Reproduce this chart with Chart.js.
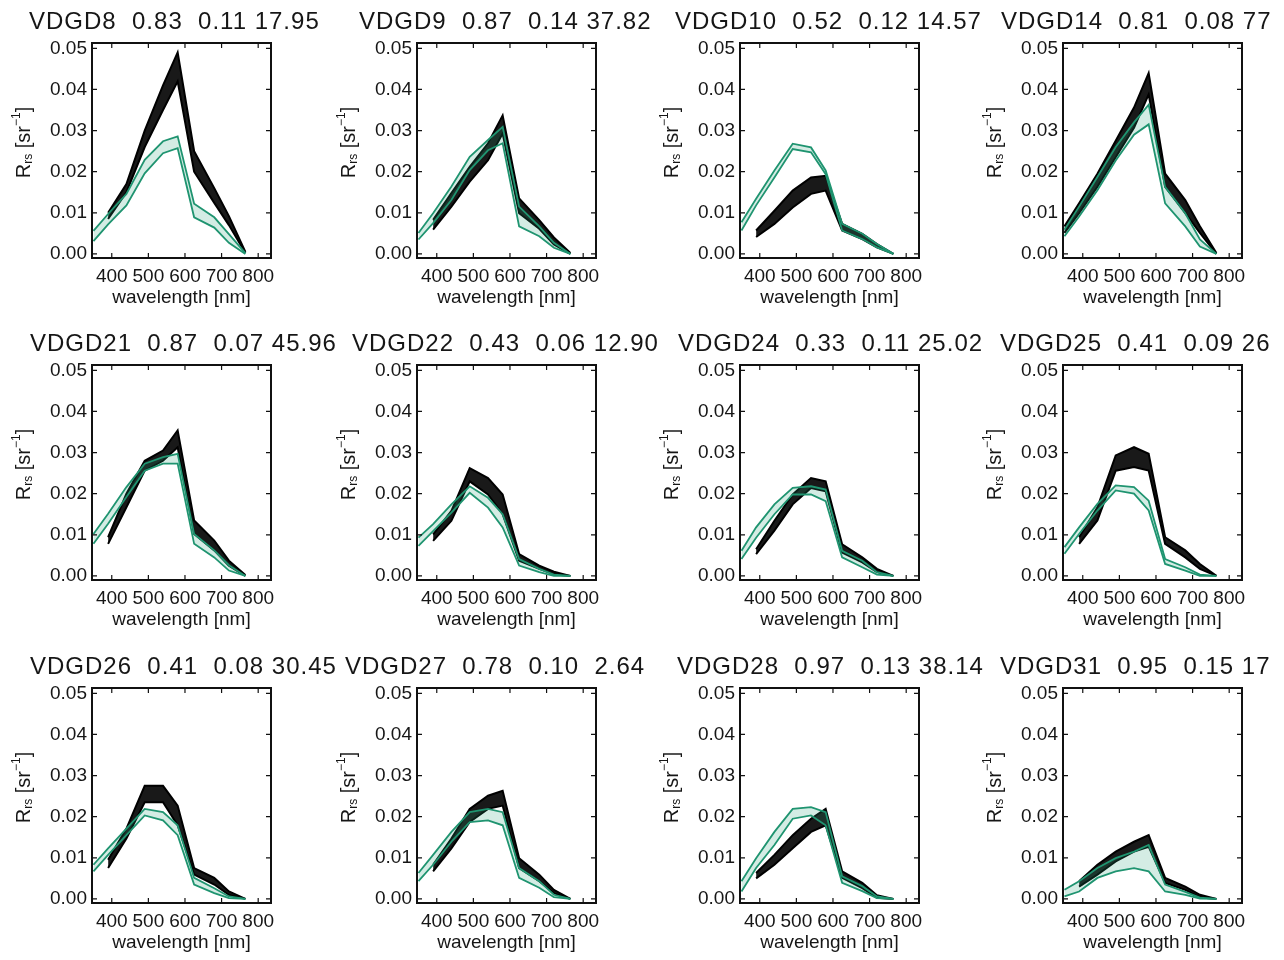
<!DOCTYPE html>
<html>
<head>
<meta charset="utf-8">
<script src="https://cdn.jsdelivr.net/npm/chart.js@4.4.0/dist/chart.umd.min.js"></script>
<style>
  html, body { margin: 0; padding: 0; background: #fff; }
  body { width: 1284px; height: 960px; position: relative; overflow: hidden; font-family: "Liberation Sans", Arial, sans-serif; }
  .panel { position: absolute; width: 323px; height: 320px; }
  .ttl { position: absolute; font-size: 24px; line-height: 1; color: #161616; white-space: pre; letter-spacing: 1px; }
</style>
</head>
<body>
<script>
// shared axes
const wavelengths = [350, 390, 440, 490, 540, 580, 625, 680, 720, 765];
const xTicks = [400, 500, 600, 700, 800];
const yTicks = [0, 0.01, 0.02, 0.03, 0.04, 0.05];

// panel titles
const stations = ['VDGD8', 'VDGD9', 'VDGD10', 'VDGD14', 'VDGD21', 'VDGD22', 'VDGD24', 'VDGD25', 'VDGD26', 'VDGD27', 'VDGD28', 'VDGD31'];
const statsA = [0.83, 0.87, 0.52, 0.81, 0.87, 0.43, 0.33, 0.41, 0.41, 0.78, 0.97, 0.95];
const statsB = [0.11, 0.14, 0.12, 0.08, 0.07, 0.06, 0.11, 0.09, 0.08, 0.10, 0.13, 0.15];
const statsC = ['17.95', '37.82', '14.57', '77', '45.96', '12.90', '25.02', '26', '30.45', '2.64', '38.14', '17'];

// black band (upper / lower envelope) per station, Rrs at wavelengths
const blackUpper = [
  [null, 0.010, 0.017, 0.030, 0.041, 0.049, 0.025, 0.016, 0.0092, 0.0005],
  [null, 0.0083, 0.0148, 0.0212, 0.0269, 0.0337, 0.0135, 0.0082, 0.004, 0.0002],
  [null, 0.0057, 0.0105, 0.0154, 0.0186, 0.019, 0.0073, 0.0049, 0.0024, 0],
  [0.0067, 0.0123, 0.0195, 0.0275, 0.0356, 0.044, 0.0195, 0.0131, 0.0067, 0.0002],
  [null, 0.0094, 0.020, 0.028, 0.0305, 0.0354, 0.0135, 0.0086, 0.0037, 0.0002],
  [null, 0.0101, 0.0158, 0.0262, 0.0238, 0.0198, 0.0053, 0.0025, 0.001, 0],
  [null, 0.0065, 0.0134, 0.0198, 0.0238, 0.023, 0.0077, 0.0045, 0.0017, 0],
  [null, 0.0094, 0.0167, 0.0293, 0.0313, 0.0297, 0.0094, 0.0062, 0.0029, 0],
  [null, 0.0095, 0.0171, 0.0275, 0.0275, 0.0227, 0.0075, 0.0051, 0.0018, 0],
  [null, 0.0083, 0.0147, 0.0219, 0.0251, 0.0263, 0.0099, 0.0059, 0.0022, 0],
  [null, 0.0063, 0.0107, 0.0155, 0.0195, 0.0219, 0.0067, 0.0039, 0.0009, 0],
  [null, 0.0043, 0.0083, 0.0115, 0.0139, 0.0155, 0.0051, 0.003, 0.001, 0]
];
const blackLower = [
  [null, 0.0085, 0.015, 0.026, 0.035, 0.042, 0.020, 0.0124, 0.007, 0.0002],
  [null, 0.0059, 0.0115, 0.0176, 0.0228, 0.0293, 0.0099, 0.0061, 0.0023, 0],
  [null, 0.0041, 0.0073, 0.0113, 0.0146, 0.0154, 0.0057, 0.0036, 0.0016, 0],
  [0.0051, 0.0099, 0.0163, 0.0235, 0.0307, 0.0388, 0.0163, 0.0099, 0.0051, 0],
  [null, 0.0078, 0.0167, 0.0256, 0.028, 0.0313, 0.0102, 0.0062, 0.0025, 0],
  [null, 0.0085, 0.0134, 0.023, 0.0198, 0.015, 0.0037, 0.0017, 0.0004, 0],
  [null, 0.0053, 0.011, 0.0174, 0.0214, 0.0206, 0.0057, 0.0033, 0.0009, 0],
  [null, 0.0078, 0.0135, 0.0256, 0.0265, 0.0256, 0.0078, 0.0045, 0.0017, 0],
  [null, 0.0075, 0.0147, 0.0235, 0.0235, 0.0179, 0.0059, 0.0035, 0.001, 0],
  [null, 0.0067, 0.0123, 0.0187, 0.0219, 0.0227, 0.0075, 0.0043, 0.0014, 0],
  [null, 0.005, 0.0083, 0.0123, 0.0163, 0.0179, 0.0051, 0.0026, 0.0003, 0],
  [null, 0.003, 0.0059, 0.0091, 0.0115, 0.0127, 0.0039, 0.0022, 0.0004, 0]
];

// green band (upper / lower envelope)
const greenUpper = [
  [0.0056, 0.0097, 0.0146, 0.0229, 0.0274, 0.0286, 0.0122, 0.0089, 0.0048, 0.0002],
  [0.0051, 0.0099, 0.0164, 0.0236, 0.0277, 0.0309, 0.0115, 0.0067, 0.0027, 0],
  [0.0077, 0.0134, 0.0203, 0.0268, 0.0259, 0.0203, 0.0073, 0.0049, 0.0024, 0],
  [0.0059, 0.0115, 0.0187, 0.026, 0.032, 0.0363, 0.0163, 0.0099, 0.0035, 0],
  [0.0102, 0.0151, 0.0216, 0.0273, 0.0289, 0.0297, 0.0102, 0.0062, 0.0026, 0],
  [0.0093, 0.0126, 0.0174, 0.0218, 0.019, 0.015, 0.0041, 0.0017, 0.0003, 0],
  [0.0061, 0.0118, 0.0174, 0.0214, 0.0218, 0.021, 0.0061, 0.0037, 0.0009, 0],
  [0.007, 0.0118, 0.0175, 0.022, 0.0216, 0.0183, 0.0041, 0.0021, 0.0003, 0],
  [0.0083, 0.0123, 0.0171, 0.0219, 0.0211, 0.0179, 0.0051, 0.0026, 0.0006, 0],
  [0.0063, 0.0107, 0.0163, 0.0211, 0.0219, 0.0211, 0.0075, 0.0043, 0.001, 0],
  [0.0043, 0.0099, 0.0163, 0.0219, 0.0223, 0.0211, 0.0055, 0.0031, 0.0006, 0],
  [0.0022, 0.0043, 0.0075, 0.0099, 0.0115, 0.0131, 0.0035, 0.0017, 0.0003, 0]
];
const greenLower = [
  [0.0031, 0.0072, 0.0118, 0.0196, 0.0245, 0.0257, 0.0089, 0.0064, 0.0027, 0],
  [0.0035, 0.0075, 0.0131, 0.0204, 0.0252, 0.0269, 0.0067, 0.0043, 0.0015, 0],
  [0.0057, 0.0118, 0.0186, 0.0255, 0.0247, 0.0194, 0.0057, 0.0036, 0.0016, 0],
  [0.0043, 0.0091, 0.0155, 0.0227, 0.029, 0.0315, 0.0123, 0.0067, 0.0018, 0],
  [0.0078, 0.0127, 0.0192, 0.0256, 0.0273, 0.0273, 0.0078, 0.0045, 0.0013, 0],
  [0.0073, 0.0109, 0.0154, 0.0202, 0.0166, 0.0118, 0.0025, 0.0009, 0, 0],
  [0.0041, 0.0093, 0.015, 0.0198, 0.0198, 0.0182, 0.0045, 0.0021, 0.0003, 0],
  [0.0054, 0.0102, 0.0159, 0.0208, 0.02, 0.0159, 0.0029, 0.0013, 0, 0],
  [0.0067, 0.0107, 0.0155, 0.0203, 0.0191, 0.0155, 0.0035, 0.0014, 0.0002, 0],
  [0.0043, 0.0083, 0.0139, 0.0187, 0.0191, 0.0179, 0.0051, 0.0027, 0.0004, 0],
  [0.0018, 0.0075, 0.0131, 0.0195, 0.0203, 0.0179, 0.0039, 0.0019, 0.0002, 0],
  [0.0006, 0.0018, 0.0051, 0.0067, 0.0075, 0.0067, 0.0018, 0.001, 0.0001, 0]
];

// layout of the 4 x 3 grid (plot box corners)
const boxLefts = [92, 417, 740, 1063];
const boxTops = [43, 365, 688];
const titleLefts = [[29, 359, 675, 1001], [30, 352, 678, 1000], [30, 345, 677, 1000]];

const FONT = '"Liberation Sans", Arial, sans-serif';
const TXT = '#161616';
const GREEN = '#1f9470';

const toPoints = arr => wavelengths.map((w, k) => ({ x: w, y: arr[k] }));
const fmt = v => v.toFixed(2).padStart(6, ' ');
const fmtC = c => c.includes('.') ? c.padStart(6, ' ') : ' ' + c;

// box, inward ticks and the R_rs axis label
const framePlugin = {
  id: 'frame',
  afterDraw(chart) {
    const { ctx, chartArea: a, scales } = chart;
    ctx.save();
    ctx.strokeStyle = '#111';
    ctx.lineWidth = 2;
    ctx.strokeRect(a.left, a.top, a.right - a.left, a.bottom - a.top);
    ctx.lineWidth = 1.2;
    ctx.beginPath();
    yTicks.forEach(v => {
      const y = scales.y.getPixelForValue(v);
      ctx.moveTo(a.left, y); ctx.lineTo(a.left + 5, y);
      ctx.moveTo(a.right, y); ctx.lineTo(a.right - 5, y);
    });
    xTicks.forEach(v => {
      const x = scales.x.getPixelForValue(v);
      ctx.moveTo(x, a.bottom); ctx.lineTo(x, a.bottom - 5);
      ctx.moveTo(x, a.top); ctx.lineTo(x, a.top + 5);
    });
    ctx.stroke();

    const parts = [
      { t: 'R', size: 20, dy: 0 },
      { t: 'rs', size: 12, dy: 5 },
      { t: ' [sr', size: 20, dy: 0 },
      { t: '\u22121', size: 12, dy: -7 },
      { t: ']', size: 20, dy: 0 }
    ];
    ctx.translate(a.left - 68, (a.top + a.bottom) / 2 - 8);
    ctx.rotate(-Math.PI / 2);
    ctx.fillStyle = TXT;
    ctx.textBaseline = 'middle';
    let total = 0;
    parts.forEach(p => { ctx.font = p.size + 'px ' + FONT; p.w = ctx.measureText(p.t).width; total += p.w; });
    let x = -total / 2;
    parts.forEach(p => {
      ctx.font = p.size + 'px ' + FONT;
      ctx.fillText(p.t, x, p.dy);
      x += p.w;
    });
    ctx.restore();
  }
};

function makePanel(i) {
  const col = i % 4, row = Math.floor(i / 4);
  const boxL = boxLefts[col], boxT = boxTops[row];

  const wrap = document.createElement('div');
  wrap.className = 'panel';
  wrap.style.left = (boxL - 92) + 'px';
  wrap.style.top = (boxT - 43) + 'px';
  const cv = document.createElement('canvas');
  cv.width = 323;
  cv.height = 320;
  wrap.appendChild(cv);
  document.body.appendChild(wrap);

  const ttl = document.createElement('div');
  ttl.className = 'ttl';
  ttl.textContent = stations[i] + fmt(statsA[i]) + fmt(statsB[i]) + fmtC(statsC[i]);
  ttl.style.left = titleLefts[row][col] + 'px';
  ttl.style.top = (boxT - 34) + 'px';
  document.body.appendChild(ttl);

  new Chart(cv, {
    type: 'line',
    data: {
      datasets: [
        { data: toPoints(greenUpper[i]), borderColor: GREEN, borderWidth: 1.8, fill: false },
        { data: toPoints(greenLower[i]), borderColor: GREEN, borderWidth: 1.8, fill: '-1', backgroundColor: 'rgba(40,160,120,0.2)' },
        { data: toPoints(blackUpper[i]), borderColor: '#000', borderWidth: 2, fill: false },
        { data: toPoints(blackLower[i]), borderColor: '#000', borderWidth: 2, fill: '-1', backgroundColor: 'rgba(0,0,0,0.9)' }
      ]
    },
    options: {
      responsive: false,
      animation: false,
      layout: { padding: { top: 43, right: 52, left: 0, bottom: 0 } },
      plugins: { legend: { display: false }, tooltip: { enabled: false } },
      elements: { point: { radius: 0 }, line: { tension: 0 } },
      scales: {
        x: {
          type: 'linear', min: 346, max: 835,
          grid: { display: false, drawTicks: false },
          border: { display: false },
          afterBuildTicks: s => { s.ticks = xTicks.map(v => ({ value: v })); },
          afterFit: s => { s.height = 62; s.paddingLeft = 0; s.paddingRight = 0; },
          ticks: { font: { family: FONT, size: 19 }, color: TXT, padding: 7, maxRotation: 0, autoSkip: false },
          title: { display: true, text: 'wavelength [nm]', font: { family: FONT, size: 19 }, color: TXT, padding: { top: 0, bottom: 11 } }
        },
        y: {
          type: 'linear', min: -0.001, max: 0.0513,
          grid: { display: false, drawTicks: false },
          border: { display: false },
          afterBuildTicks: s => { s.ticks = yTicks.map(v => ({ value: v })); },
          afterFit: s => { s.width = 92; s.paddingTop = 0; s.paddingBottom = 0; },
          ticks: { font: { family: FONT, size: 19 }, color: TXT, padding: 5, callback: v => v.toFixed(2) }
        }
      }
    },
    plugins: [framePlugin]
  });
}

for (let i = 0; i < stations.length; i++) makePanel(i);
</script>
</body>
</html>
